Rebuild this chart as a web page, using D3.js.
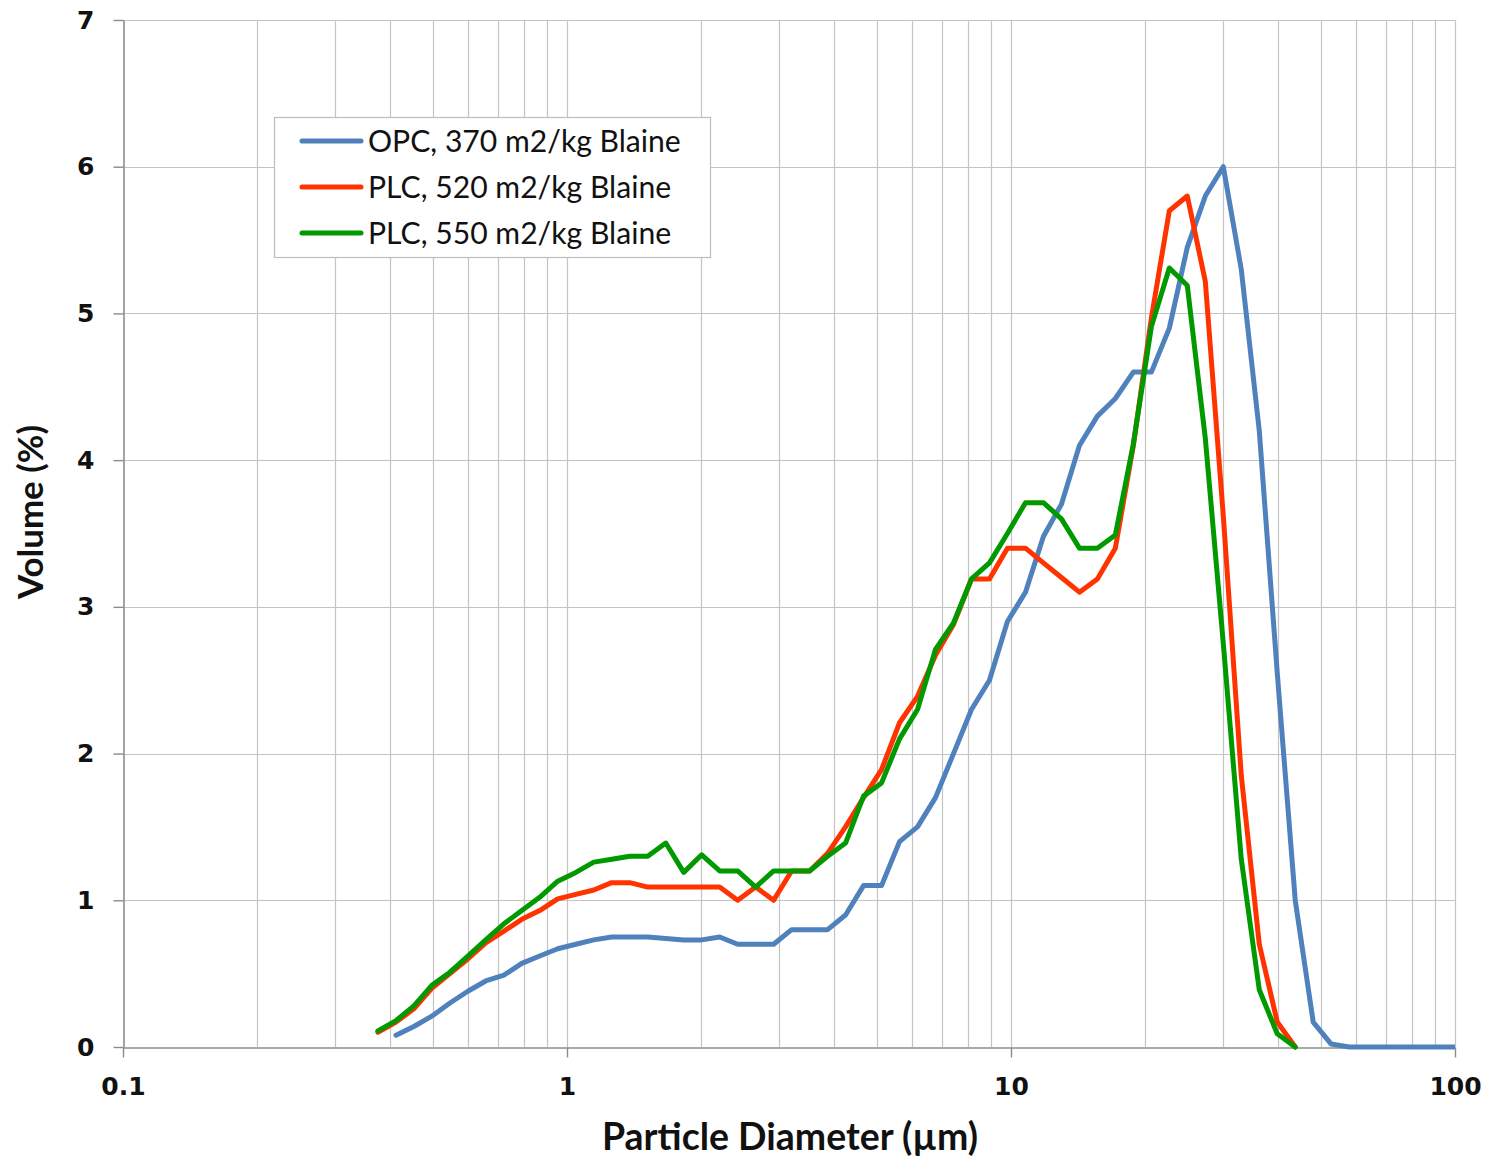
<!DOCTYPE html>
<html>
<head>
<meta charset="utf-8">
<script src="https://cdn.jsdelivr.net/npm/d3@7"></script>
<style>
  html, body { margin: 0; padding: 0; background: #ffffff; }
  svg { display: block; }
</style>
</head>
<body>
<svg id="chart" width="1487" height="1157"></svg>
<script>
// Particle size classes (µm), geometric bins of the laser-diffraction analyser
const diameters = [0.375,0.412,0.452,0.496,0.545,0.598,0.656,0.721,0.791,0.868,
  0.953,1.047,1.149,1.261,1.385,1.520,1.669,1.832,2.011,2.207,
  2.423,2.660,2.920,3.205,3.519,3.863,4.240,4.655,5.110,5.610,
  6.158,6.760,7.421,8.147,8.943,9.817,10.78,11.83,12.99,14.26,
  15.65,17.18,18.86,20.71,22.73,24.95,27.39,30.07,33.01,36.24,
  39.78,43.67,47.94,52.62,57.77,63.41,69.61,76.42,83.89,92.09,101.1];

// Volume (%) per size class
const opc370 = [null,0.08,0.14,0.21,0.30,0.38,0.45,0.49,0.57,0.62,
  0.67,0.70,0.73,0.75,0.75,0.75,0.74,0.73,0.73,0.75,
  0.70,0.70,0.70,0.80,0.80,0.80,0.90,1.10,1.10,1.40,
  1.50,1.70,2.00,2.30,2.50,2.90,3.10,3.48,3.70,4.10,
  4.30,4.42,4.60,4.60,4.90,5.45,5.80,6.00,5.30,4.20,
  2.55,1.00,0.17,0.02,0,0,0,0,0,0,0];

const plc520 = [0.10,0.17,0.26,0.40,0.50,0.60,0.71,0.79,0.87,0.93,
  1.01,1.04,1.07,1.12,1.12,1.09,1.09,1.09,1.09,1.09,
  1.00,1.09,1.00,1.20,1.20,1.32,1.50,1.70,1.89,2.21,
  2.39,2.67,2.88,3.19,3.19,3.40,3.40,3.30,3.20,3.10,
  3.19,3.40,4.10,4.97,5.70,5.80,5.22,3.62,1.85,0.70,
  0.17,0.00];

const plc550 = [0.11,0.18,0.28,0.42,0.51,0.62,0.73,0.84,0.93,1.02,
  1.13,1.19,1.26,1.28,1.30,1.30,1.39,1.19,1.31,1.20,
  1.20,1.09,1.20,1.20,1.20,1.30,1.39,1.71,1.80,2.10,
  2.30,2.71,2.89,3.19,3.30,3.50,3.71,3.71,3.60,3.40,
  3.40,3.49,4.11,4.91,5.31,5.19,4.15,2.75,1.28,0.39,
  0.09,0.00];

const seriesNames = ["OPC, 370 m2/kg Blaine", "PLC, 520 m2/kg Blaine", "PLC, 550 m2/kg Blaine"];
const seriesColors = ["#4f81bd", "#ff3300", "#009900"];
const seriesValues = [opc370, plc520, plc550];

const xTickValues = [0.1, 1, 10, 100];
const xTickLabels = ["0.1", "1", "10", "100"];
const yTickValues = [0, 1, 2, 3, 4, 5, 6, 7];

const svg = d3.select("#chart");
const plot = { left: 123, right: 1455, top: 20, bottom: 1047 };

const x = d3.scaleLog().domain([0.1, 100]).range([plot.left, plot.right]);
const y = d3.scaleLinear().domain([0, 7]).range([plot.bottom, plot.top]);

// Minor + major vertical gridlines (1..9 per decade)
const xGrid = [];
[0.1, 1, 10].forEach(d => { for (let m = 1; m <= 9; m++) xGrid.push(+(d * m).toPrecision(3)); });
xGrid.push(100);

svg.append("g").attr("class", "grid-x")
  .selectAll("line").data(xGrid.filter(v => v > 0.1)).join("line")
  .attr("x1", d => Math.round(x(d)) + 0.5).attr("x2", d => Math.round(x(d)) + 0.5)
  .attr("y1", plot.top).attr("y2", plot.bottom)
  .attr("stroke", "#c4c4c4").attr("stroke-width", 1.2);

svg.append("g").attr("class", "grid-y")
  .selectAll("line").data(yTickValues.filter(v => v > 0)).join("line")
  .attr("x1", plot.left).attr("x2", plot.right)
  .attr("y1", d => Math.round(y(d)) + 0.5).attr("y2", d => Math.round(y(d)) + 0.5)
  .attr("stroke", "#c4c4c4").attr("stroke-width", 1.2);

// Axes
const yAxis = d3.axisLeft(y).tickValues(yTickValues).tickFormat(d3.format("d"))
  .tickSizeInner(10).tickSizeOuter(0).tickPadding(19);
const gy = svg.append("g").attr("transform", `translate(${plot.left + 0.5},0)`).call(yAxis);

const xAxis = d3.axisBottom(x).tickValues(xTickValues)
  .tickFormat((d, i) => xTickLabels[i]).tickSizeInner(10).tickSizeOuter(0).tickPadding(15);
const gx = svg.append("g").attr("transform", `translate(0,${plot.bottom + 0.5})`).call(xAxis);

[gx, gy].forEach(g => {
  g.select(".domain").attr("stroke", "#8c8c8c").attr("stroke-width", 1.6);
  g.selectAll(".tick line").attr("stroke", "#8c8c8c").attr("stroke-width", 1.4);
  g.selectAll(".tick text")
    .attr("font-family", "'DejaVu Sans', Verdana, sans-serif")
    .attr("font-weight", "bold").attr("font-size", 25).attr("fill", "#111");
});
gx.selectAll(".tick text").attr("dy", "0.9em");

// Data lines
const defs = svg.append("defs");
defs.append("clipPath").attr("id", "plot-clip").append("rect")
  .attr("x", plot.left).attr("y", plot.top - 10)
  .attr("width", plot.right - plot.left).attr("height", plot.bottom - plot.top + 20);

const line = d3.line()
  .defined(d => d.v !== null && d.v !== undefined)
  .x(d => x(d.d)).y(d => y(d.v));

const linesG = svg.append("g").attr("clip-path", "url(#plot-clip)");
seriesValues.forEach((vals, i) => {
  const pts = vals.map((v, k) => ({ d: diameters[k], v: v }));
  linesG.append("path").datum(pts)
    .attr("d", line).attr("fill", "none")
    .attr("stroke", seriesColors[i]).attr("stroke-width", 5)
    .attr("stroke-linejoin", "round").attr("stroke-linecap", "round");
});

// Fit a text element's font size so its rendered width matches a target
function fitText(sel, target, start) {
  sel.attr("font-size", start);
  const w = sel.node().getComputedTextLength();
  if (w > 0) sel.attr("font-size", start * target / w);
}

// Axis titles
const xTitle = svg.append("text")
  .attr("x", 790).attr("y", 1150).attr("text-anchor", "middle")
  .attr("font-family", "Lato, 'Open Sans', sans-serif").attr("font-weight", "bold")
  .attr("fill", "#111").text("Particle Diameter (µm)");
fitText(xTitle, 376, 30);

const yTitle = svg.append("text")
  .attr("transform", "translate(43,512) rotate(-90)").attr("text-anchor", "middle")
  .attr("font-family", "Lato, 'Open Sans', sans-serif").attr("font-weight", "bold")
  .attr("fill", "#111").text("Volume (%)");
fitText(yTitle, 174, 30);

// Legend
const legend = svg.append("g").attr("class", "legend");
legend.append("rect")
  .attr("x", 274.5).attr("y", 117.5).attr("width", 436).attr("height", 140)
  .attr("fill", "#ffffff").attr("stroke", "#bdbdbd").attr("stroke-width", 1.2);

const legendRows = [141, 187, 233];
seriesNames.forEach((name, i) => {
  legend.append("line")
    .attr("x1", 302).attr("x2", 361).attr("y1", legendRows[i]).attr("y2", legendRows[i])
    .attr("stroke", seriesColors[i]).attr("stroke-width", 5).attr("stroke-linecap", "round");
});
const legendTexts = seriesNames.map((name, i) =>
  legend.append("text")
    .attr("x", 368).attr("y", legendRows[i]).attr("dy", "0.36em")
    .attr("font-family", "Lato, 'Open Sans', sans-serif")
    .attr("fill", "#111").text(name));
fitText(legendTexts[0], 313, 26);
const legendSize = legendTexts[0].attr("font-size");
legendTexts.forEach(t => t.attr("font-size", legendSize));
</script>
</body>
</html>
